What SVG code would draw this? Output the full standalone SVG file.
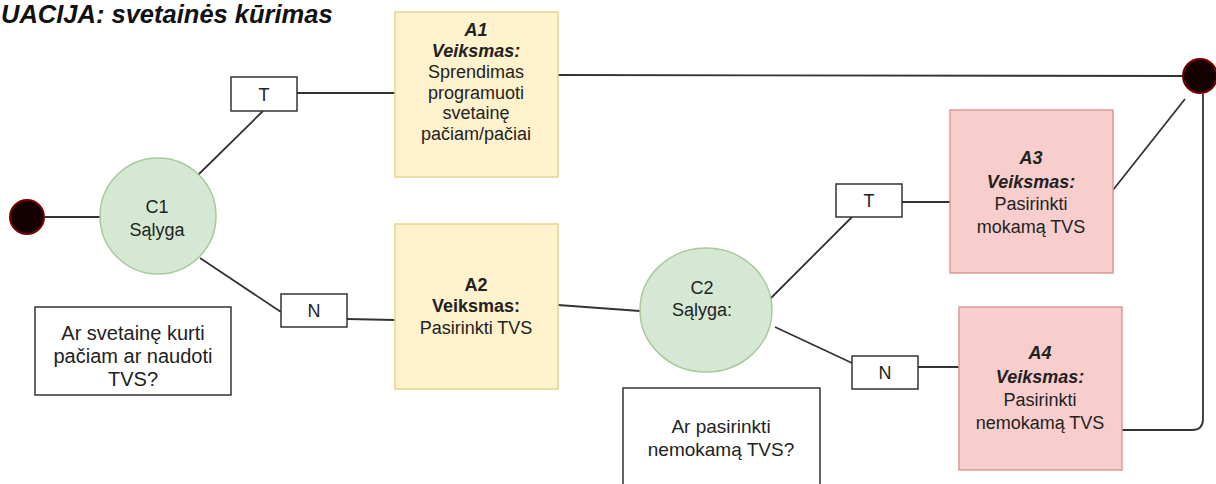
<svg xmlns="http://www.w3.org/2000/svg" width="1216" height="484" viewBox="0 0 1216 484">
<style>
text{font-family:"Liberation Sans",Arial,sans-serif;font-size:18px;fill:#222;text-anchor:middle}
.title{font-size:25.5px;font-weight:bold;font-style:italic;text-anchor:start;fill:#111}
.bi{font-weight:bold;font-style:italic}
.b{font-weight:bold}
.q1{font-size:20px}
.q2{font-size:19px}
.yel{fill:#fff2cc;stroke:#e8d38f;stroke-width:1.5}
.red{fill:#f8cecc;stroke:#d99a97;stroke-width:1.5}
.grn{fill:#d5e8d4;stroke:#a9c99a;stroke-width:1.5}
.box{fill:#fff;stroke:#333;stroke-width:1.5}
.dot{fill:#140000;stroke:#7a0000;stroke-width:2}
.ln{fill:none;stroke:#333;stroke-width:1.8}
</style>
<rect width="1216" height="484" fill="#fff"/>
<text class="title" x="1" y="23">UACIJA: svetainės kūrimas</text>
<g id="connectors">
<line class="ln" x1="44" y1="217" x2="100" y2="217"/>
<line class="ln" x1="198" y1="175" x2="263" y2="111"/>
<line class="ln" x1="297" y1="93" x2="395" y2="93"/>
<line class="ln" x1="200" y1="258" x2="281" y2="312"/>
<line class="ln" x1="347" y1="319" x2="395" y2="320"/>
<line class="ln" x1="558" y1="75" x2="1183" y2="76"/>
<line class="ln" x1="558" y1="305" x2="640" y2="311"/>
<line class="ln" x1="771" y1="298" x2="852" y2="217"/>
<line class="ln" x1="902" y1="202" x2="950" y2="202"/>
<line class="ln" x1="775" y1="327" x2="852" y2="363"/>
<line class="ln" x1="918" y1="367" x2="959" y2="367"/>
<line class="ln" x1="1113" y1="190" x2="1185" y2="99"/>
<path class="ln" d="M1122,430 L1192,430 Q1203,430 1203,419 L1203,94"/>
</g>
<g id="start"><circle class="dot" cx="27" cy="217" r="17"/></g>
<g id="end"><circle class="dot" cx="1200" cy="76" r="17"/></g>
<g id="C1">
<circle class="grn" cx="158" cy="216" r="58"/>
<text x="157" y="213">C1</text>
<text x="157" y="236">Sąlyga</text>
</g>
<g id="Q1">
<rect class="box" x="35" y="307" width="196" height="88"/>
<text class="q1" x="133" y="340">Ar svetainę kurti</text>
<text class="q1" x="133" y="363">pačiam ar naudoti</text>
<text class="q1" x="133" y="386">TVS?</text>
</g>
<g id="T1"><rect class="box" x="231" y="77" width="66" height="34"/><text x="264" y="101">T</text></g>
<g id="N1"><rect class="box" x="281" y="294" width="66" height="33"/><text x="314" y="317">N</text></g>
<g id="A1">
<rect class="yel" x="395" y="12" width="163" height="165"/>
<text class="bi" x="476" y="36">A1</text>
<text class="bi" x="476" y="57">Veiksmas:</text>
<text x="476" y="78">Sprendimas</text>
<text x="476" y="99">programuoti</text>
<text x="476" y="119">svetainę</text>
<text x="476" y="140">pačiam/pačiai</text>
</g>
<g id="A2">
<rect class="yel" x="395" y="224" width="163" height="165"/>
<text class="b" x="476" y="291">A2</text>
<text class="b" x="476" y="312">Veiksmas:</text>
<text x="476" y="334">Pasirinkti TVS</text>
</g>
<g id="C2">
<ellipse class="grn" cx="706" cy="310" rx="66" ry="62"/>
<text x="702" y="294">C2</text>
<text x="702" y="316">Sąlyga:</text>
</g>
<g id="Q2">
<rect class="box" x="623" y="388" width="197" height="110"/>
<text class="q2" x="721" y="433">Ar pasirinkti</text>
<text class="q2" x="721" y="456">nemokamą TVS?</text>
</g>
<g id="T2"><rect class="box" x="836" y="184" width="66" height="33"/><text x="869" y="207">T</text></g>
<g id="N2"><rect class="box" x="852" y="356" width="66" height="33"/><text x="885" y="379">N</text></g>
<g id="A3">
<rect class="red" x="950" y="110" width="163" height="163"/>
<text class="bi" x="1031" y="164">A3</text>
<text class="bi" x="1031" y="188">Veiksmas:</text>
<text x="1031" y="210">Pasirinkti</text>
<text x="1031" y="233">mokamą TVS</text>
</g>
<g id="A4">
<rect class="red" x="959" y="307" width="163" height="163"/>
<text class="bi" x="1040" y="359">A4</text>
<text class="bi" x="1040" y="383">Veiksmas:</text>
<text x="1040" y="406">Pasirinkti</text>
<text x="1040" y="429">nemokamą TVS</text>
</g>
</svg>
